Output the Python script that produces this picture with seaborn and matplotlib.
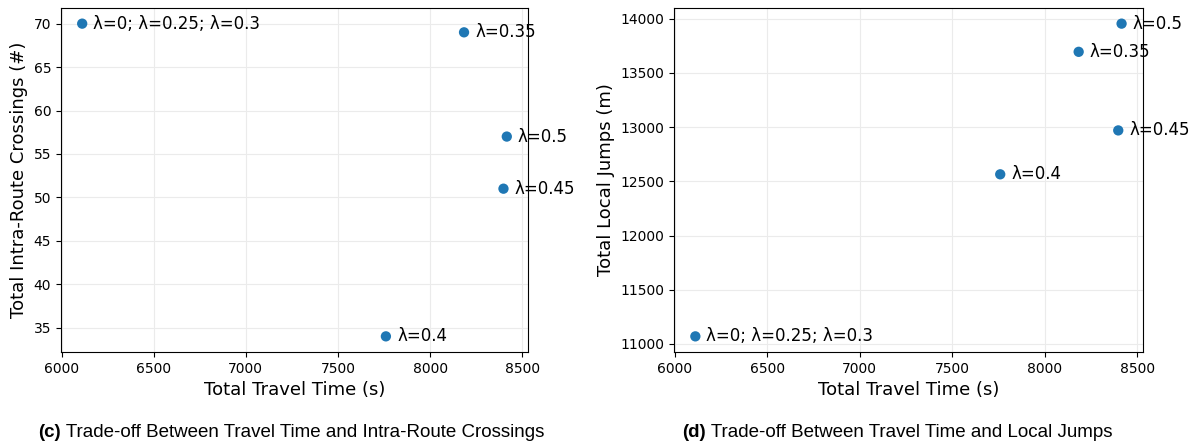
import matplotlib
matplotlib.use("Agg")
import matplotlib.pyplot as plt
import seaborn as sns
import pandas as pd

# data
labels = ["λ=0; λ=0.25; λ=0.3", "λ=0.35", "λ=0.4", "λ=0.45", "λ=0.5"]
travel_time = [6112, 8184, 7760, 8398, 8416]
crossings = [70, 69, 34, 51, 57]
local_jumps = [11070, 13695, 12565, 12970, 13955]

df = pd.DataFrame({"label": labels, "time": travel_time,
                   "crossings": crossings, "jumps": local_jumps})

fig = plt.figure(figsize=(11.93, 4.45), dpi=100)
ax1 = fig.add_axes([0.0511, 0.209, 0.3915, 0.773])
ax2 = fig.add_axes([0.565, 0.209, 0.393, 0.773])

panels = [
    (ax1, "crossings", "Total Intra-Route Crossings (#)", "(c)",
     " Trade-off Between Travel Time and Intra-Route Crossings", 0.244),
    (ax2, "jumps", "Total Local Jumps (m)", "(d)",
     " Trade-off Between Travel Time and Local Jumps", 0.752),
]

for ax, col, ylabel, tag, caption, cx in panels:
    sns.scatterplot(data=df, x="time", y=col, ax=ax, color="#1f77b4",
                    s=55, edgecolor="none", zorder=3)
    for _, r in df.iterrows():
        ax.annotate(r["label"], (r["time"], r[col]), xytext=(8, 0),
                    textcoords="offset points", va="center", fontsize=12)
    ax.grid(True, color="#ebebeb", linewidth=0.8)
    ax.set_axisbelow(True)
    ax.set_xlabel("Total Travel Time (s)", fontsize=13)
    ax.set_ylabel(ylabel, fontsize=13)
    ax.tick_params(labelsize=10)
    ax.set_xticks([6000, 6500, 7000, 7500, 8000, 8500])
    for sp in ax.spines.values():
        sp.set_color("black")

ax1.set_yticks([35, 40, 45, 50, 55, 60, 65, 70])

# captions below each panel: bold tag followed by plain text
fig.canvas.draw()
for ax, col, ylabel, tag, caption, cx in panels:
    t1 = fig.text(0, 0.018, tag, ha="left", fontsize=13.5,
                  family="Liberation Sans", fontweight="bold")
    t2 = fig.text(0, 0.018, caption, ha="left", fontsize=13.5,
                  family="Liberation Sans")
    fig.canvas.draw()
    w1 = t1.get_window_extent().width / fig.bbox.width
    w2 = t2.get_window_extent().width / fig.bbox.width
    x0 = cx - (w1 + w2) / 2
    t1.set_x(x0)
    t2.set_x(x0 + w1)

fig.savefig("out.png", dpi=100)
